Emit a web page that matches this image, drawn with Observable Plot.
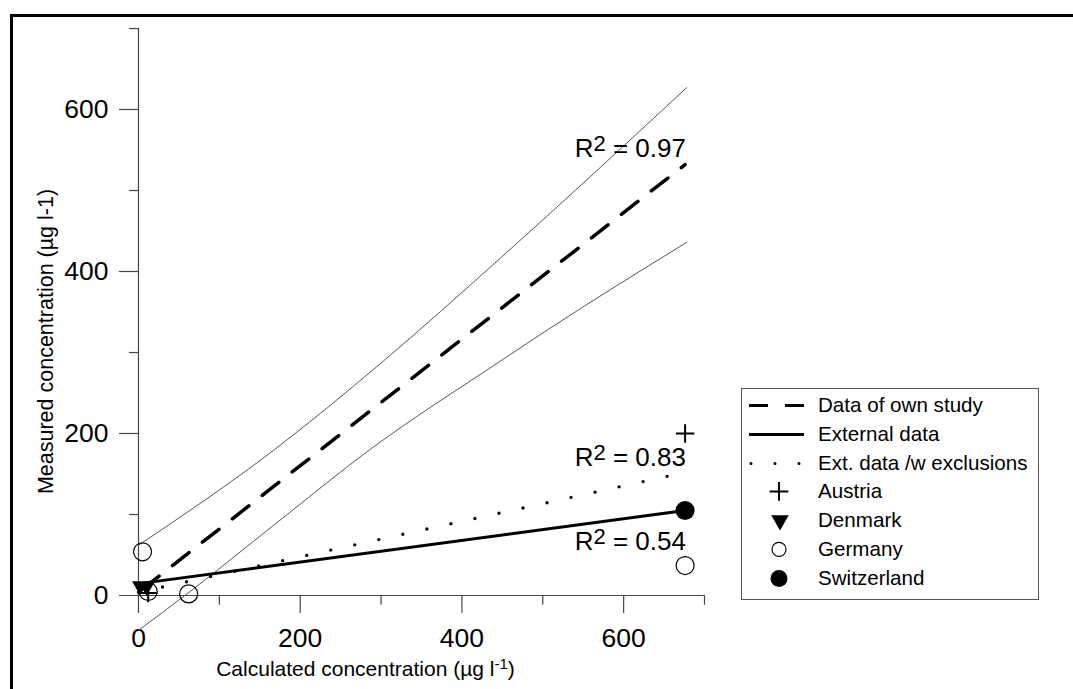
<!DOCTYPE html>
<html>
<head>
<meta charset="utf-8">
<script src="https://cdn.jsdelivr.net/npm/d3@7"></script>
<script src="https://cdn.jsdelivr.net/npm/@observablehq/plot@0.6"></script>
<style>
html, body { margin: 0; padding: 0; background: #fff; overflow: hidden; width: 1073px; height: 689px; }
#wrap { position: relative; width: 1073px; height: 689px; font-family: "Liberation Sans", Arial, sans-serif; }
#chart svg { display: block; max-width: none; }
#frame { position: absolute; left: 10px; top: 14px; width: 1100px; height: 700px; border-top: 3px solid #000; border-left: 3px solid #000; pointer-events: none; z-index: 3; }
#legend { position: absolute; left: 741px; top: 388px; width: 296px; height: 208px; border: 1px solid #555; background: #fff; z-index: 2; padding-top: 2px; box-sizing: content-box; }
#legend .row { position: relative; height: 28.8px; display: flex; align-items: center; }
#legend .row svg { position: absolute; left: 0; top: 0; }
#legend .row span { position: absolute; left: 76px; font-size: 20.6px; line-height: 28.8px; color: #000; white-space: nowrap; }
</style>
</head>
<body>
<div id="wrap">
  <div id="chart"></div>
  <div id="legend"></div>
  <div id="frame"></div>
</div>
<script>
// ---------- data ----------
const xDomain = [-23.5, 700];
const yDomain = [-22.2, 700];
const majorTicks = [0, 200, 400, 600];
const minorTicks = [100, 300, 500, 700];

const austria = [{x: 12, y: 3}, {x: 676, y: 200}];
const denmark = [{x: 2, y: 12}, {x: 10, y: 11}];
const germany = [{x: 5, y: 54}, {x: 12, y: 5}, {x: 62, y: 2}, {x: 676, y: 37}];
const switzerland = [{x: 676, y: 105}];

const ownStudyFit = [{x: 5, y: 8}, {x: 676, y: 532}];
const externalFit = [{x: 3, y: 15}, {x: 676, y: 105}];
const exclusionsFit = [{x: 0, y: 4}, {x: 676, y: 152}];
const upperBand = [{x: 0, y: 62}, {x: 168, y: 180}, {x: 300, y: 287}, {x: 447, y: 416}, {x: 678, y: 627}];
const lowerBand = [{x: 0, y: -43}, {x: 60, y: 2}, {x: 170, y: 89}, {x: 286, y: 180}, {x: 447, y: 289}, {x: 509, y: 330}, {x: 678, y: 436}];

const r2Labels = [
  {x: 677, y: 541, base: "R", sup: "2", rest: " = 0.97"},
  {x: 677, y: 160, base: "R", sup: "2", rest: " = 0.83"},
  {x: 677, y: 55.6, base: "R", sup: "2", rest: " = 0.54"}
];

const xTitle = {base: "Calculated concentration (µg l", sup: "-1", rest: ")"};
const yTitle = "Measured concentration (µg l-1)";

const legendLabels = ["Data of own study", "External data", "Ext. data /w exclusions", "Austria", "Denmark", "Germany", "Switzerland"];
const legendKinds = ["dash", "solid", "dot", "plus", "tri", "circle", "disc"];

// ---------- chart ----------
const axisColor = "#444";
const bandColor = "#555";
const tickFont = 26.5;

const plot = Plot.plot({
  width: 1073,
  height: 689,
  marginLeft: 119,
  marginRight: 369,
  marginTop: 28,
  marginBottom: 76,
  x: {domain: xDomain, axis: null},
  y: {domain: yDomain, axis: null},
  style: {fontFamily: '"Liberation Sans", Arial, sans-serif', background: "transparent", overflow: "visible", color: "#000"},
  marks: [
    // axes
    Plot.ruleY([0], {x1: xDomain[0], x2: xDomain[1], stroke: axisColor, strokeWidth: 1.2}),
    Plot.ruleX([0], {y1: yDomain[0], y2: yDomain[1], stroke: axisColor, strokeWidth: 1.2}),
    Plot.ruleX(majorTicks.filter(d => d > 0), {y1: 0, y2: yDomain[0], stroke: axisColor, strokeWidth: 1.2}),
    Plot.ruleX(minorTicks, {y1: 0, y2: -12, stroke: axisColor, strokeWidth: 1.2}),
    Plot.ruleY(majorTicks.filter(d => d > 0), {x1: xDomain[0], x2: 0, stroke: axisColor, strokeWidth: 1.2}),
    Plot.ruleY(minorTicks, {x1: -11, x2: 0, stroke: axisColor, strokeWidth: 1.2}),
    Plot.text(majorTicks, {x: d => d, y: 0, dy: 43, text: d => String(d), fontSize: tickFont, fill: "#000"}),
    Plot.text(majorTicks, {x: 0, y: d => d, dx: -30, textAnchor: "end", text: d => String(d), fontSize: tickFont, fill: "#000"}),
    // confidence band
    Plot.line(upperBand, {x: "x", y: "y", stroke: bandColor, strokeWidth: 1, curve: "monotone-x"}),
    Plot.line(lowerBand, {x: "x", y: "y", stroke: bandColor, strokeWidth: 1, curve: "monotone-x"}),
    // regression lines
    Plot.line(ownStudyFit, {x: "x", y: "y", stroke: "#000", strokeWidth: 3.5, strokeDasharray: "21,17"}),
    Plot.line(externalFit, {x: "x", y: "y", stroke: "#000", strokeWidth: 3}),
    Plot.line(exclusionsFit, {x: "x", y: "y", stroke: "#000", strokeWidth: 3.4, strokeDasharray: "0,24.6", strokeLinecap: "round"}),
    // points
    Plot.dot(germany, {x: "x", y: "y", r: 9, stroke: "#000", fill: "none", strokeWidth: 1.2}),
    Plot.dot(switzerland, {x: "x", y: "y", r: 9.5, fill: "#000", stroke: "none"}),
    Plot.dot(denmark, {x: "x", y: "y", symbol: "triangle", rotate: 180, r: 6, fill: "#000", stroke: "none"}),
    Plot.dot(austria, {x: "x", y: "y", symbol: "plus", r: 6, stroke: "#000", strokeWidth: 2}),
    // R² annotations
    Plot.text(r2Labels, {x: "x", y: "y", text: d => d.base + d.sup + d.rest, textAnchor: "end", lineAnchor: "bottom", fontSize: 26, fill: "#000"}),
    // axis titles
    Plot.text([xTitle], {frameAnchor: "bottom", textAnchor: "middle", dx: -46.5, dy: 62, lineAnchor: "bottom", text: d => d.base + d.sup + d.rest, fontSize: 21, fill: "#000"}),
    Plot.text([yTitle], {frameAnchor: "left", textAnchor: "middle", dx: -67, dy: 20.5, rotate: -90, lineAnchor: "bottom", text: d => d, fontSize: 21.5, fill: "#000"})
  ]
});
document.getElementById("chart").appendChild(plot);

// superscripts as real tspans
function superscript(item, supSize, shift) {
  const full = item.base + item.sup + item.rest;
  d3.select(plot).selectAll("text").filter(function() { return this.textContent === full; }).each(function() {
    const t = d3.select(this);
    t.text(null);
    t.append("tspan").text(item.base);
    t.append("tspan").attr("font-size", supSize).attr("dy", -shift).text(item.sup);
    t.append("tspan").attr("dy", shift).text(item.rest);
  });
}
r2Labels.forEach(d => superscript(d, 22, 6));
superscript(xTitle, 15, 7);

// ---------- legend ----------
const legend = d3.select("#legend");
legendLabels.forEach((label, i) => {
  const row = legend.append("div").attr("class", "row");
  const svg = row.append("svg").attr("width", 76).attr("height", 28.8);
  const cy = 14.4;
  const kind = legendKinds[i];
  if (kind === "dash") svg.append("line").attr("x1", 7).attr("x2", 62).attr("y1", cy).attr("y2", cy).attr("stroke", "#000").attr("stroke-width", 3).attr("stroke-dasharray", "19,17");
  if (kind === "solid") svg.append("line").attr("x1", 7).attr("x2", 62).attr("y1", cy).attr("y2", cy).attr("stroke", "#000").attr("stroke-width", 3);
  if (kind === "dot") svg.append("line").attr("x1", 9).attr("x2", 62).attr("y1", cy).attr("y2", cy).attr("stroke", "#000").attr("stroke-width", 3).attr("stroke-linecap", "round").attr("stroke-dasharray", "0,24");
  if (kind === "plus") svg.append("path").attr("d", d3.symbol(d3.symbolPlus, 115)()).attr("transform", `translate(37,${cy})`).attr("stroke", "#000").attr("stroke-width", 2).attr("fill", "none");
  if (kind === "tri") svg.append("path").attr("d", d3.symbol(d3.symbolTriangle, Math.PI * 6.5 * 6.5)()).attr("transform", `translate(38,${cy}) rotate(180)`).attr("fill", "#000");
  if (kind === "circle") svg.append("circle").attr("cx", 37).attr("cy", cy).attr("r", 7).attr("fill", "none").attr("stroke", "#000").attr("stroke-width", 1.2);
  if (kind === "disc") svg.append("circle").attr("cx", 37).attr("cy", cy).attr("r", 8.5).attr("fill", "#000");
  row.append("span").text(label);
});
</script>
</body>
</html>
